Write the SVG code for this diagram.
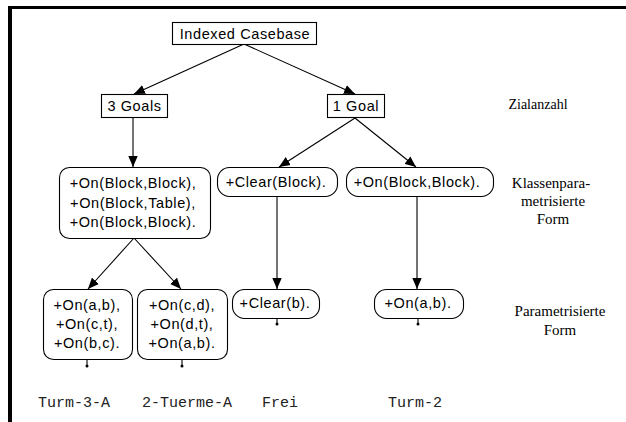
<svg xmlns="http://www.w3.org/2000/svg" width="626" height="422" viewBox="0 0 626 422">
<style>
.box{fill:#fff;stroke:#000;stroke-width:1.1}
.t{font-family:"Liberation Sans",Arial,sans-serif;font-size:14.5px;letter-spacing:0.6px;text-anchor:middle;fill:#000}
.s{font-family:"Liberation Serif","Times New Roman",serif;font-size:15px;text-anchor:middle;fill:#000}
.m{font-family:"Liberation Mono","Courier New",monospace;font-size:15px;text-anchor:middle;fill:#222}
.e{stroke:#000;stroke-width:1.1;fill:none}
</style>
<defs>
<marker id="ah" viewBox="0 0 11 10" refX="11" refY="5" markerWidth="11" markerHeight="10" markerUnits="userSpaceOnUse" orient="auto">
<path d="M0,0.3 L11,5 L0,9.7 Z" fill="#000"/>
</marker>
</defs>
<rect x="8" y="6" width="618" height="3" fill="#000"/>
<rect x="8" y="6" width="4" height="416" fill="#000"/>
<g id="connectors">
<line class="e" x1="244" y1="44" x2="134" y2="94" marker-end="url(#ah)"/>
<line class="e" x1="244" y1="44" x2="355" y2="94" marker-end="url(#ah)"/>
<line class="e" x1="133" y1="118" x2="133" y2="167" marker-end="url(#ah)"/>
<line class="e" x1="355" y1="118" x2="279" y2="167" marker-end="url(#ah)"/>
<line class="e" x1="355" y1="118" x2="416" y2="167" marker-end="url(#ah)"/>
<line class="e" x1="134" y1="238" x2="88" y2="289" marker-end="url(#ah)"/>
<line class="e" x1="134" y1="238" x2="181" y2="289" marker-end="url(#ah)"/>
<line class="e" x1="277" y1="196" x2="277" y2="289" marker-end="url(#ah)"/>
<line class="e" x1="417" y1="196" x2="417" y2="289" marker-end="url(#ah)"/>
<line class="e" x1="87" y1="359" x2="87" y2="366"/><circle cx="87" cy="366" r="1.5"/>
<line class="e" x1="182" y1="359" x2="182" y2="366"/><circle cx="182" cy="366" r="1.5"/>
<line class="e" x1="277" y1="319" x2="277" y2="324"/><circle cx="277" cy="324" r="1.5"/>
<line class="e" x1="418" y1="318" x2="418" y2="324"/><circle cx="418" cy="324" r="1.5"/>
</g>
<g id="indexed">
<rect class="box" x="172.5" y="22.5" width="144" height="22"/>
<text class="t" x="245" y="39">Indexed Casebase</text>
</g>
<g id="goals3">
<rect class="box" x="101.5" y="94.5" width="66" height="23"/>
<text class="t" x="134.5" y="111">3 Goals</text>
</g>
<g id="goal1">
<rect class="box" x="327.5" y="94.5" width="57" height="23"/>
<text class="t" x="356" y="111">1 Goal</text>
</g>
<g id="class3">
<rect class="box" x="59.5" y="167.5" width="151" height="71" rx="10"/>
<text class="t" x="133" y="188">+On(Block,Block),</text>
<text class="t" x="133" y="207.5">+On(Block,Table),</text>
<text class="t" x="133" y="227">+On(Block,Block).</text>
</g>
<g id="classClear">
<rect class="box" x="217.5" y="167.5" width="120" height="29" rx="12"/>
<text class="t" x="276" y="187">+Clear(Block).</text>
</g>
<g id="classOn">
<rect class="box" x="346.5" y="167.5" width="147" height="29" rx="12"/>
<text class="t" x="417" y="187">+On(Block,Block).</text>
</g>
<g id="turm3a">
<rect class="box" x="43.5" y="289.5" width="89" height="70" rx="10"/>
<text class="t" x="87" y="310">+On(a,b),</text>
<text class="t" x="87" y="329">+On(c,t),</text>
<text class="t" x="87" y="348">+On(b,c).</text>
</g>
<g id="tuerme2a">
<rect class="box" x="137.5" y="289.5" width="90" height="70" rx="10"/>
<text class="t" x="182" y="310">+On(c,d),</text>
<text class="t" x="182" y="329">+On(d,t),</text>
<text class="t" x="182" y="348">+On(a,b).</text>
</g>
<g id="frei">
<rect class="box" x="232.5" y="289.5" width="87" height="29" rx="12"/>
<text class="t" x="275" y="308">+Clear(b).</text>
</g>
<g id="turm2">
<rect class="box" x="374.5" y="289.5" width="89" height="29" rx="12"/>
<text class="t" x="418" y="308">+On(a,b).</text>
</g>
<g id="labels">
<text class="s" x="538" y="109" style="font-size:14px">Zialanzahl</text>
<text class="s" x="551" y="188">Klassenpara-</text>
<text class="s" x="553" y="206">metrisierte</text>
<text class="s" x="553" y="224">Form</text>
<text class="s" x="560" y="316">Parametrisierte</text>
<text class="s" x="560" y="335">Form</text>
<text class="m" x="74" y="407">Turm-3-A</text>
<text class="m" x="187" y="407">2-Tuerme-A</text>
<text class="m" x="280" y="407">Frei</text>
<text class="m" x="415" y="407">Turm-2</text>
</g>
</svg>
